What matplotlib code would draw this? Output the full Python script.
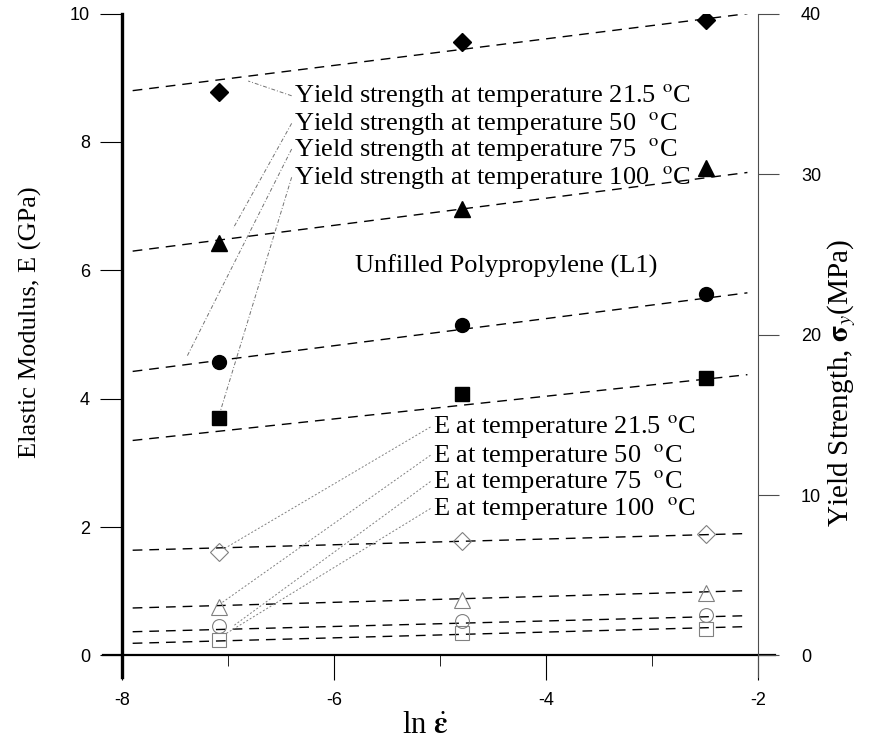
import numpy as np
import matplotlib
matplotlib.use('Agg')
import matplotlib.pyplot as plt

plt.rcParams['mathtext.fontset'] = 'stix'
plt.rcParams['font.family'] = ['Liberation Serif', 'DejaVu Serif']
plt.rcParams['axes.unicode_minus'] = False

# ln of strain rate
ln_rate = [-7.09, -4.79, -2.49]

# yield strength (MPa), right axis
ys_21 = [35.1, 38.2, 39.6]
ys_50 = [25.7, 27.8, 30.4]
ys_75 = [18.3, 20.6, 22.5]
ys_100 = [14.8, 16.3, 17.3]

# elastic modulus (GPa), left axis
e_21 = [1.62, 1.78, 1.90]
e_50 = [0.75, 0.87, 0.98]
e_75 = [0.46, 0.53, 0.63]
e_100 = [0.24, 0.35, 0.42]

# fitted trend lines, value at each end of fit_x
fit_x = [-7.9, -2.1]
ys_fit = {'21': [35.2, 40.0], '50': [25.2, 30.1], '75': [17.7, 22.6], '100': [13.4, 17.5]}
e_fit = {'21': [1.64, 1.90], '50': [0.74, 1.01], '75': [0.37, 0.62], '100': [0.19, 0.45]}

temps = ['21', '50', '75', '100']
temp_labels = ['21.5 $^{\\rm o}$C', '50  $^{\\rm o}$C', '75  $^{\\rm o}$C', '100  $^{\\rm o}$C']
markers = ['D', '^', 'o', 's']
msizes = [9, 11, 10, 10]

fig = plt.figure(figsize=(8.69, 7.44), dpi=100)
ax = fig.add_axes([0.1185, 0.0905, 0.7733, 0.8912])
ax2 = ax.twinx()

ax.set_xlim(-8.18, -1.84)
ax.set_ylim(-0.33, 10)
ax2.set_ylim(-0.33 * 4, 40)

dash = (0, (7, 5))
for t, ys, e, m, ms in zip(temps, [ys_21, ys_50, ys_75, ys_100], [e_21, e_50, e_75, e_100], markers, msizes):
    ax2.plot(fit_x, ys_fit[t], color='black', lw=1.0, linestyle=dash)
    ax2.plot(ln_rate, ys, linestyle='none', marker=m, ms=ms, color='black')
    ax.plot(fit_x, e_fit[t], color='black', lw=1.0, linestyle=dash)
    ax.plot(ln_rate, e, linestyle='none', marker=m, ms=ms, mfc='none',
            mec='0.5', mew=0.8)

# spines crossing like the original
for a in (ax, ax2):
    a.spines['top'].set_visible(False)
    a.spines['left'].set_position(('data', -8))
    a.spines['right'].set_position(('data', -2))
ax.spines['bottom'].set_position(('data', 0))
ax2.spines['bottom'].set_visible(False)
ax.spines['left'].set_linewidth(2.4)
ax.spines['bottom'].set_linewidth(1.6)
ax.spines['right'].set_visible(False)
ax2.spines['left'].set_visible(False)
ax2.spines['right'].set_linewidth(0.8)
ax2.spines['right'].set_color('0.3')

ax.set_xticks([-8, -6, -4, -2])
ax.set_xticks([-7, -5, -3], minor=True)
ax.set_yticks([0, 2, 4, 6, 8, 10])
ax2.set_yticks([0, 10, 20, 30, 40])
ax.tick_params(axis='x', which='major', direction='out', length=18, width=0.8, pad=8,
               labelsize=13)
ax.tick_params(axis='x', which='minor', direction='out', length=8, width=0.6)
ax.tick_params(axis='y', direction='out', length=16, width=0.8, pad=7, labelsize=13)
ax2.tick_params(axis='y', direction='out', length=15, width=0.8, pad=16, labelsize=13,
                color='0.3')
for lab in ax.get_xticklabels() + ax.get_yticklabels() + ax2.get_yticklabels():
    lab.set_fontfamily('Liberation Sans')

ax.set_ylabel('Elastic Modulus, E (GPa)', fontsize=19)
ax.yaxis.set_label_coords(-0.091, 0.535)
ax2.set_ylabel('Yield Strength, $\\mathbf{\\sigma}_y$(MPa)', fontsize=21)
ax2.yaxis.set_label_coords(1.075, 0.443)
ax.set_xlabel('ln $\\dot{\\mathbf{\\varepsilon}}$', fontsize=22, labelpad=0)
ax.xaxis.set_label_coords(0.48, -0.052)

# labels with leader lines (E-axis coordinates)
ys_text_y = [8.72, 8.29, 7.89, 7.45]
ys_lead_end = [(-6.81, 8.95), (-6.95, 6.66), (-7.39, 4.65), (-7.07, 3.82)]
for lab, ty, end in zip(temp_labels, ys_text_y, ys_lead_end):
    ax.text(-6.38, ty, 'Yield strength at temperature ' + lab, fontsize=19,
            ha='left', va='center')
    ax.plot([-6.40, end[0]], [ty, end[1]], color='0.45', lw=0.7,
            linestyle=(0, (4, 2, 1, 2)))

e_text_y = [3.56, 3.12, 2.71, 2.29]
e_lead_end = [(-7.03, 1.67), (-7.06, 0.82), (-6.95, 0.46), (-7.03, 0.33)]
for lab, ty, end in zip(temp_labels, e_text_y, e_lead_end):
    ax.text(-5.07, ty, 'E at temperature ' + lab, fontsize=19, ha='left', va='center')
    ax.plot([-5.09, end[0]], [ty, end[1]], color='0.5', lw=0.7,
            linestyle=(0, (2, 2)))

ax.text(-5.80, 6.07, 'Unfilled Polypropylene (L1)', fontsize=19, ha='left', va='center')

fig.savefig('out.png', dpi=100)
